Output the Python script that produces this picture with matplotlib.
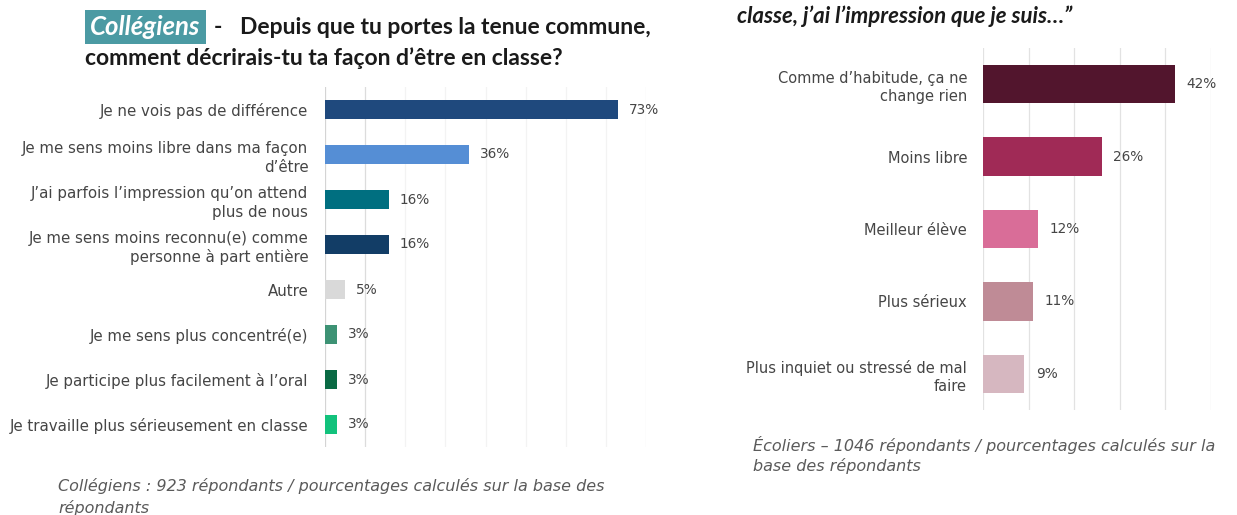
import matplotlib
matplotlib.use('Agg')
import matplotlib.pyplot as plt

W, H = 1237, 515

left_cats = [
    "Je ne vois pas de différence",
    "Je me sens moins libre dans ma façon\nd’être",
    "J’ai parfois l’impression qu’on attend\nplus de nous",
    "Je me sens moins reconnu(e) comme\npersonne à part entière",
    "Autre",
    "Je me sens plus concentré(e)",
    "Je participe plus facilement à l’oral",
    "Je travaille plus sérieusement en classe",
]
left_vals = [73, 36, 16, 16, 5, 3, 3, 3]
left_colors = ["#1f497d", "#558ed5", "#006f80", "#123d66", "#d9d9d9",
               "#3d9274", "#0a6a44", "#12c27c"]

right_cats = [
    "Comme d’habitude, ça ne\nchange rien",
    "Moins libre",
    "Meilleur élève",
    "Plus sérieux",
    "Plus inquiet ou stressé de mal\nfaire",
]
right_vals = [42, 26, 12, 11, 9]
right_colors = ["#52152d", "#a02a56", "#d96d98", "#bf8b96", "#d6b7c0"]

LABEL_FONT = "DejaVu Sans"
TXT = "#454545"

fig = plt.figure(figsize=(W / 100, H / 100), dpi=100)


def rect(l, t, r, b):
    return [l / W, 1 - b / H, (r - l) / W, (b - t) / H]


def px(x, y):
    return x / W, 1 - y / H


def draw(ax, cats, vals, colors, xmax, height, grid_cols, pad, off, fs):
    n = len(vals)
    ys = list(range(n))
    for g, c in grid_cols:
        ax.axvline(g, color=c, lw=0.9, zorder=0)
    ax.barh(ys, vals, height=height, color=colors, zorder=2)
    ax.set_xlim(0, xmax)
    ax.set_ylim(n - 0.5, -0.5)
    ax.set_yticks(ys)
    ax.set_yticklabels(cats, fontsize=fs, color=TXT, family=LABEL_FONT,
                       linespacing=1.3)
    ax.tick_params(axis='y', length=0, pad=pad)
    ax.set_xticks([])
    for s in ax.spines.values():
        s.set_visible(False)
    for i, v in enumerate(vals):
        ax.text(v + off, i, f"{v}%", va='center', ha='left', fontsize=9.8,
                color=TXT, family=LABEL_FONT)


axL = fig.add_axes(rect(325, 87, 646, 447))
gl = [(0, "#d4d4d4"), (10, "#dcdcdc")] + [(g, "#f3f3f3") for g in range(20, 80, 10)] + [(80, "#ececec")]
draw(axL, left_cats, left_vals, left_colors, 80, 0.42, gl, 12, 2.7, 10.8)

axR = fig.add_axes(rect(983, 48, 1211, 410))
gr = [(g, "#e2e2e2") for g in range(0, 51, 10)]
draw(axR, right_cats, right_vals, right_colors, 50, 0.53, gr, 11.5, 2.6, 10.5)

# Left title
fig.text(*px(90, 27), "Collégiens", fontsize=18.5, fontweight='bold', style='italic',
         color='white', family='Lato', va='center', ha='left',
         bbox=dict(boxstyle='square,pad=0.2', fc='#4b9aa3', ec='none'))
fig.text(*px(214, 27), "-", fontsize=16.5, fontweight='bold', color='#1a1a1a',
         family='Lato', va='center', ha='left')
fig.text(*px(240, 28), "Depuis que tu portes la tenue commune,", fontsize=16.5,
         fontweight='bold', color='#1a1a1a', family='Lato', va='center', ha='left')
fig.text(*px(85, 58), "comment décrirais-tu ta façon d’être en classe?", fontsize=16.5,
         fontweight='bold', color='#1a1a1a', family='Lato', va='center', ha='left')

# Right title (cut)
fig.text(*px(737, 16), "classe, j’ai l’impression que je suis…”", fontsize=16,
         fontweight='bold', style='italic', color='#1a1a1a', family='Lato',
         va='center', ha='left')

# Footnotes
FN = dict(fontsize=11.5, style='italic', color='#5a5a5a', family='DejaVu Sans',
          va='center', ha='left')
fig.text(*px(58, 486), "Collégiens : 923 répondants / pourcentages calculés sur la base des", **FN)
fig.text(*px(58, 508), "répondants", **FN)
fig.text(*px(753, 445), "Écoliers – 1046 répondants / pourcentages calculés sur la", **FN)
fig.text(*px(753, 466), "base des répondants", **FN)

fig.savefig("out.png", dpi=100, facecolor='white')
